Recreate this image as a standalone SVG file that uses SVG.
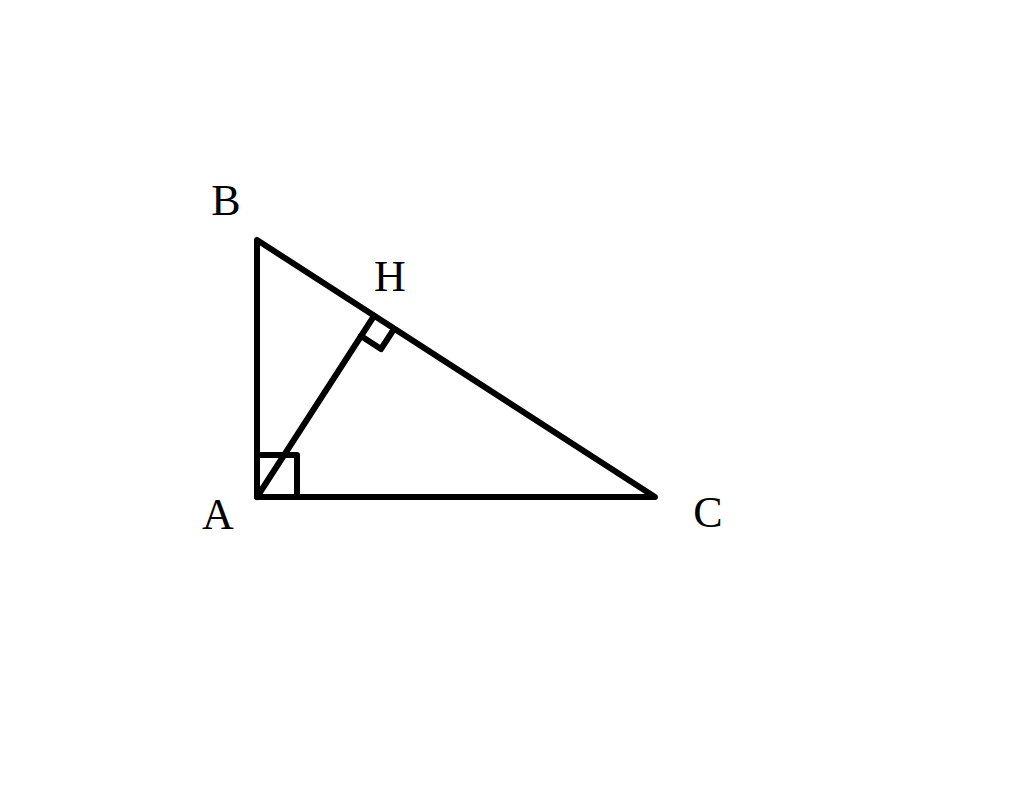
<svg xmlns="http://www.w3.org/2000/svg" width="1024" height="791" viewBox="0 0 1024 791">
<style>
.l{stroke:#000;stroke-width:6;fill:none;stroke-linecap:round;stroke-linejoin:round}
.t{font-family:"Liberation Serif",serif;font-size:44px;fill:#000;text-anchor:middle}
</style>
<rect width="1024" height="791" fill="#fff"/>
<g id="connectors">
<path class="l" d="M257,240 L257,497 L655,497 Z"/>
<path class="l" d="M257,497 L374,316"/>
<path class="l" d="M257,455 L297,455 L297,497"/>
<path class="l" d="M361,336 L381,349 L394,329"/>
</g>
<g id="B"><text class="t" x="226" y="215">B</text></g>
<g id="H"><text class="t" x="390" y="291">H</text></g>
<g id="A"><text class="t" x="218" y="529">A</text></g>
<g id="C"><text class="t" x="708" y="527">C</text></g>
</svg>
